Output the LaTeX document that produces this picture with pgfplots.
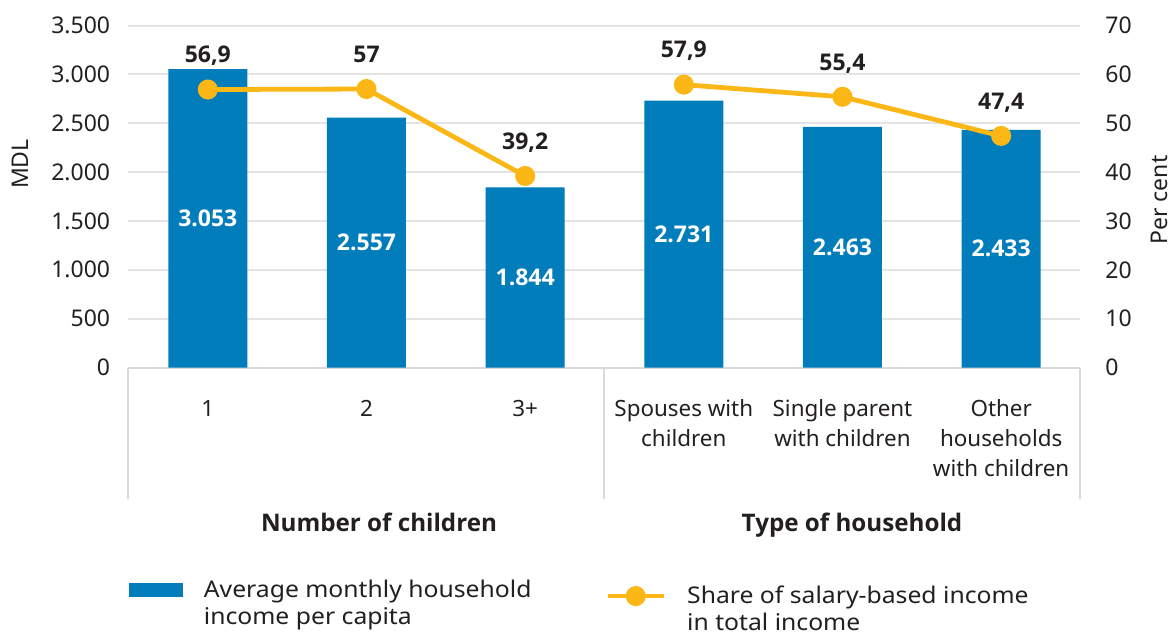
\documentclass[border=0pt]{standalone}
\usepackage{pgfplots}
\pgfplotsset{compat=1.18}
\usepackage{fontspec}
\setmainfont{Noto Sans}[AutoFakeBold=2.5]
\newfontfamily\osans{Open Sans}
\definecolor{barblue}{RGB}{0,125,186}
\definecolor{lineorange}{RGB}{251,183,21}
\definecolor{txt}{RGB}{35,31,32}
\definecolor{gridc}{RGB}{228,228,228}
\definecolor{sepc}{RGB}{217,217,217}
\newcommand{\fs}{\fontsize{11.5bp}{15bp}\selectfont}
\newcommand{\fx}{\fontsize{11.2bp}{15bp}\selectfont}
\newcommand{\fl}{\fontsize{11.5bp}{13.75bp}\selectfont\addfontfeatures{FakeStretch=1.075}}
\newcommand{\fb}{\fontsize{11.5bp}{13bp}\selectfont\osans\bfseries}
\newcommand{\fg}{\fontsize{12.1bp}{14bp}\selectfont\osans\bfseries}
\begin{document}
\begin{tikzpicture}
\path[use as bounding box] (-64.25bp,-132.25bp) rectangle (521.25bp,183.75bp);
\begin{axis}[
  at={(0,0)}, anchor=south west,
  scale only axis, width=476bp, height=171bp,
  xmin=-0.5, xmax=5.5, ymin=0, ymax=3500,
  axis x line*=bottom, axis y line*=left,
  y axis line style={draw=none},
  x axis line style={draw=sepc, line width=1bp},
  ytick={0,500,...,3500},
  scaled y ticks=false,
  xtick={0,...,5},
  xticklabels={\strut 1,\strut 2,\strut 3+,\strut Spouses with\\children,\strut Single parent\\with children,\strut Other\\households\\with children},
  tick style={draw=none},
  ymajorgrids, grid style={draw=gridc, line width=1bp},
  /pgf/number format/.cd, use comma, assume math mode=true, /pgfplots/.cd,
  ticklabel style={font=\fs, text=txt},
  yticklabel style={anchor=east, inner sep=0pt, xshift=-9bp},
  xticklabel style={anchor=north, inner sep=0pt, yshift=-13.85bp, align=center, font=\fx},
  clip=false,
  legend style={at={(0,-0.6126)}, anchor=north west, draw=none, fill=none, inner sep=0pt,
    cells={anchor=north west, align=left}, nodes={inner xsep=10.5bp, inner ysep=0pt, font=\fl, text=txt}},
  legend image code/.code={\fill[#1] (0bp,-10bp) rectangle (27bp,-3bp);},
]
\addplot[ybar, bar width=39.5bp, fill=barblue, draw=none,
  nodes near coords,
  visualization depends on={rawy \as \rawy},
  every node near coord/.append style={anchor=center, inner sep=0pt, text=white,
    font=\fb,
    shift={(axis direction cs:0,-\rawy/2)}},
] coordinates {(0,3053) (1,2557) (2,1844) (3,2731) (4,2463) (5,2433)};
\addlegendentry{\strut Average monthly household\\income per capita}
\draw[sepc, line width=1bp] (axis cs:-0.5,0) -- ++(0bp,-65.75bp);
\draw[sepc, line width=1bp] (axis cs:2.5,0) -- ++(0bp,-65.75bp);
\draw[sepc, line width=1bp] (axis cs:5.5,0) -- ++(0bp,-65.75bp);
\node[anchor=base, inner sep=0pt, text=txt, font=\fg] at ([yshift=-81.85bp]axis cs:1.079,0) {Number of children};
\node[anchor=base, inner sep=0pt, text=txt, font=\fg] at ([yshift=-81.85bp]axis cs:4.06,0) {Type of household};
\node[rotate=90, anchor=center, inner sep=0pt, text=txt, font=\fs] at (axis description cs:-0.114,0.595) {MDL};
\end{axis}
\begin{axis}[
  at={(0,0)}, anchor=south west,
  scale only axis, width=476bp, height=171bp,
  xmin=-0.5, xmax=5.5, ymin=0, ymax=70,
  axis x line=none, axis y line*=right,
  y axis line style={draw=none},
  ytick={0,10,...,70},
  tick style={draw=none},
  unbounded coords=jump,
  /pgf/number format/.cd, use comma, assume math mode=true, /pgfplots/.cd,
  ticklabel style={font=\fs, text=txt},
  yticklabel style={anchor=west, inner sep=0pt, xshift=12.25bp},
  clip=false,
  legend style={at={(0.5005,-0.6301)}, anchor=north west, draw=none, fill=none, inner sep=0pt,
    cells={anchor=north west, align=left}, nodes={inner xsep=10.5bp, inner ysep=0pt, font=\fl, text=txt}},
  legend image code/.code={\draw[#1] (0bp,-6.35bp) -- (28bp,-6.35bp);
     \draw[#1] plot[mark=*] coordinates {(14bp,-6.35bp)};},
]
\addplot[color=lineorange, line width=2.4bp, mark=*, mark size=3.8bp, mark options={solid, fill=lineorange, draw=none},
  nodes near coords,
  every node near coord/.append style={anchor=base, inner sep=0pt, yshift=13.4bp, text=txt,
    font=\fb},
] coordinates {(0,56.9) (1,57) (2,39.2) (2.5,nan) (3,57.9) (4,55.4) (5,47.4)};
\addlegendentry{\strut Share of salary-based income\\in total income}
\node[rotate=90, anchor=center, inner sep=0pt, text=txt, font=\fs] at (axis description cs:1.083,0.4898) {Per cent};
\end{axis}
\end{tikzpicture}
\end{document}
